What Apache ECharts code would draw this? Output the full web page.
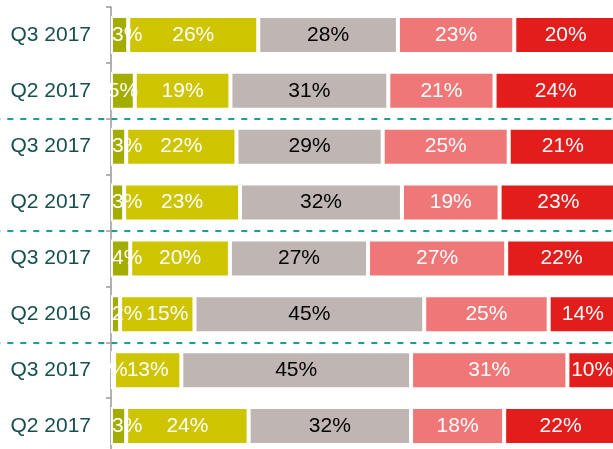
<!DOCTYPE html>
<html>
<head>
<meta charset="utf-8">
<style>
  html, body { margin: 0; padding: 0; background: #fff; }
  #main { width: 613px; height: 449px; }
</style>
<script src="https://cdn.jsdelivr.net/npm/echarts@6/dist/echarts.min.js"></script>
</head>
<body>
<div id="main"></div>
<script>
// rows, top to bottom
var categories = ['Q3 2017', 'Q2 2017', 'Q3 2017', 'Q2 2017', 'Q3 2017', 'Q2 2016', 'Q3 2017', 'Q2 2017'];

// shares per row (%), labels show them rounded
var olive  = [3.4, 4.7, 3.0, 2.6, 3.8, 1.8, 0.6, 3.0];
var yellow = [25.7, 18.9, 21.8, 22.9, 19.7, 14.7, 13.3, 24.2];
var grey   = [27.6, 31.2, 28.9, 32.0, 27.3, 45.4, 45.4, 32.1];
var salmon = [23.0, 21.0, 24.9, 19.3, 27.3, 24.6, 30.9, 18.4];
var red    = [20.3, 24.2, 21.4, 23.2, 21.9, 13.5, 9.8, 22.3];

// dashed separators sit above these row indexes
var groupBreaks = [2, 4, 6];

var font = "'Liberation Sans', Arial, sans-serif";

// the small olive labels hug the axis, except a couple that stay centred
function oliveLabel(i) {
  return (i === 1 || i === 6) ? { position: 'inside' } : { position: 'insideLeft', distance: 1 };
}
// the 15% label in the 2016 row is pushed right to clear the 2% next to it
function yellowLabel(i) {
  return i === 5 ? { offset: [10, 0] } : null;
}

function makeSeries(name, values, color, labelColor, labelFor) {
  return {
    name: name,
    type: 'bar',
    stack: 'total',
    barWidth: 38,
    data: values.map(function (v, i) {
      var l = labelFor ? labelFor(i) : null;
      return l ? { value: v, label: l } : v;
    }),
    itemStyle: { color: color, borderColor: '#fff', borderWidth: 2 },
    label: {
      show: true,
      position: 'inside',
      fontFamily: font,
      fontSize: 21,
      color: labelColor,
      formatter: function (p) { return Math.round(p.value) + '%'; }
    },
    emphasis: { disabled: true }
  };
}

var myChart = echarts.init(document.getElementById('main'));

var option = {
  animation: false,
  backgroundColor: '#fff',
  grid: [
    // bars
    { left: 111, right: -4, top: 7, height: 447, containLabel: false, outerBoundsMode: 'none' },
    // full-width grid just for the dashed group separators
    { left: 0, right: 0, top: 7, height: 447, containLabel: false, outerBoundsMode: 'none' }
  ],
  xAxis: [
    { gridIndex: 0, type: 'value', min: 0, max: 100, show: false },
    { gridIndex: 1, type: 'value', min: 0, max: 100, show: false }
  ],
  yAxis: [
    {
      gridIndex: 0,
      type: 'category',
      inverse: true,
      data: categories,
      axisLine: { show: true, lineStyle: { color: '#999', width: 1.5 } },
      axisTick: { show: true, length: 5, lineStyle: { color: '#999', width: 1.5 } },
      axisLabel: { margin: 20, fontFamily: font, fontSize: 21, color: '#15504c' },
      splitLine: { show: false }
    },
    {
      gridIndex: 1,
      type: 'category',
      inverse: true,
      data: categories,
      axisLine: { show: false },
      axisTick: { show: false },
      axisLabel: { show: false },
      splitLine: {
        show: true,
        interval: function (index) { return groupBreaks.indexOf(index) >= 0; },
        lineStyle: { color: '#1a9e8e', width: 2, type: [6, 7], dashOffset: 5.7 }
      }
    }
  ],
  series: [
    makeSeries('1', olive, '#a3ad00', '#fff', oliveLabel),
    makeSeries('2', yellow, '#cec400', '#fff', yellowLabel),
    makeSeries('3', grey, '#bfb5b2', '#000'),
    makeSeries('4', salmon, '#f07777', '#fff'),
    makeSeries('5', red, '#e21d1b', '#fff')
  ]
};

myChart.setOption(option);
</script>
</body>
</html>
